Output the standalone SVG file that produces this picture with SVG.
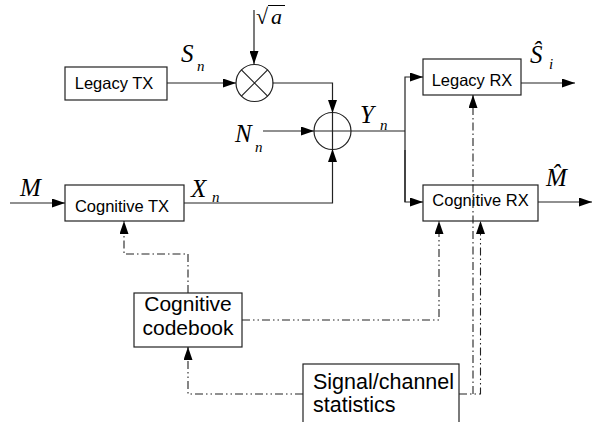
<svg xmlns="http://www.w3.org/2000/svg" width="595" height="422" viewBox="0 0 595 422">
<style>
.box{fill:#fff;stroke:#222;stroke-width:1.2}
.t{font-family:"Liberation Sans",Arial,sans-serif;fill:#000}
.m{font-family:"Liberation Serif","Times New Roman",serif;font-style:italic;fill:#000}
.ln{fill:none;stroke:#222;stroke-width:1.2}
.dd{fill:none;stroke:#222;stroke-width:1.1;stroke-dasharray:8,3,1.5,3}
.ddd{fill:none;stroke:#222;stroke-width:1.1;stroke-dasharray:8,3,1.5,3,1.5,3}
</style>
<defs>
<marker id="a" markerWidth="13" markerHeight="9" refX="13" refY="4.5" orient="auto" markerUnits="userSpaceOnUse"><path d="M0,0 L13,4.5 L0,9 z" fill="#000"/></marker>
</defs>
<rect width="595" height="422" fill="#fff"/>
<g id="multiplier">
<circle cx="254.5" cy="83" r="18.5" fill="#fff" stroke="#222" stroke-width="1.2"/>
<path class="ln" d="M241.4,69.9 L267.6,96.1 M267.6,69.9 L241.4,96.1"/>
</g>
<g id="adder">
<circle cx="332.5" cy="131" r="18.5" fill="#fff" stroke="#222" stroke-width="1.2"/>
<path class="ln" d="M314,131 H351 M332.5,112.5 V149.5"/>
</g>
<g id="legacy-tx">
<rect class="box" x="65" y="67" width="102" height="33"/>
<text class="t" x="114" y="89" font-size="16.5" text-anchor="middle">Legacy TX</text>
</g>
<g id="cognitive-tx">
<rect class="box" x="65" y="185" width="119" height="36"/>
<text class="t" x="122" y="212" font-size="16.5" text-anchor="middle">Cognitive TX</text>
</g>
<g id="legacy-rx">
<rect class="box" x="423" y="59" width="98" height="36"/>
<text class="t" x="472" y="86" font-size="16.5" text-anchor="middle">Legacy RX</text>
</g>
<g id="cognitive-rx">
<rect class="box" x="423" y="185" width="115" height="36"/>
<text class="t" x="480.5" y="206" font-size="16.5" text-anchor="middle">Cognitive RX</text>
</g>
<g id="cognitive-codebook">
<rect class="box" x="134" y="293" width="108" height="54"/>
<text class="t" x="188" y="311" font-size="21" text-anchor="middle">Cognitive</text>
<text class="t" x="188" y="335" font-size="21" text-anchor="middle">codebook</text>
</g>
<g id="stats">
<rect class="box" x="303" y="364" width="156" height="64"/>
<text class="t" x="313" y="389" font-size="21.5">Signal/channel</text>
<text class="t" x="313" y="412" font-size="21.5">statistics</text>
</g>
<g id="connectors">
<path class="ln" d="M254,10 V64" marker-end="url(#a)"/>
<path class="ln" d="M167,83 H236" marker-end="url(#a)"/>
<path class="ln" d="M272.5,83 H332.5 V113" marker-end="url(#a)"/>
<path class="ln" d="M263,131 H314" marker-end="url(#a)"/>
<path class="ln" d="M184,203 H332.5 V149" marker-end="url(#a)"/>
<path class="ln" d="M10,203 H65" marker-end="url(#a)"/>
<path class="ln" d="M351,131 H405"/>
<path class="ln" d="M405,202 V77 H423" marker-end="url(#a)"/>
<path class="ln" d="M405,150 V202 H423" marker-end="url(#a)"/>
<path class="ln" d="M521,83 H575" marker-end="url(#a)"/>
<path class="ln" d="M538,202 H592" marker-end="url(#a)"/>
<path class="dd" d="M188,293 V254 H124 V221" marker-end="url(#a)"/>
<path class="ddd" d="M242,320 H439 V221" marker-end="url(#a)"/>
<path class="ddd" d="M303,394 H188 V347" marker-end="url(#a)"/>
<path class="ddd" d="M459,394 H480.5 V221" marker-end="url(#a)"/>
<path class="dd" d="M473,394 V95" marker-end="url(#a)"/>
</g>
<g id="labels">
<text class="m" x="181" y="62" font-size="25">S</text>
<text class="m" x="197" y="71" font-size="15">n</text>
<text class="m" x="235" y="142" font-size="25">N</text>
<text class="m" x="255" y="152" font-size="15">n</text>
<text class="m" x="191" y="197" font-size="25">X</text>
<text class="m" x="212" y="202" font-size="15">n</text>
<text class="m" x="20" y="196" font-size="25">M</text>
<text class="m" x="360" y="123" font-size="25">Y</text>
<text class="m" x="380" y="130" font-size="15">n</text>
<text class="m" x="530" y="63" font-size="25">Ŝ</text>
<text class="m" x="549" y="69" font-size="15">i</text>
<text class="m" x="546" y="186" font-size="25">M̂</text>
<text x="256" y="24" font-family="Liberation Serif,serif" font-size="22">√</text>
<line x1="268" y1="5.5" x2="285" y2="5.5" stroke="#000" stroke-width="1"/>
<text class="m" x="271" y="24" font-size="22">a</text>
</g>
</svg>
